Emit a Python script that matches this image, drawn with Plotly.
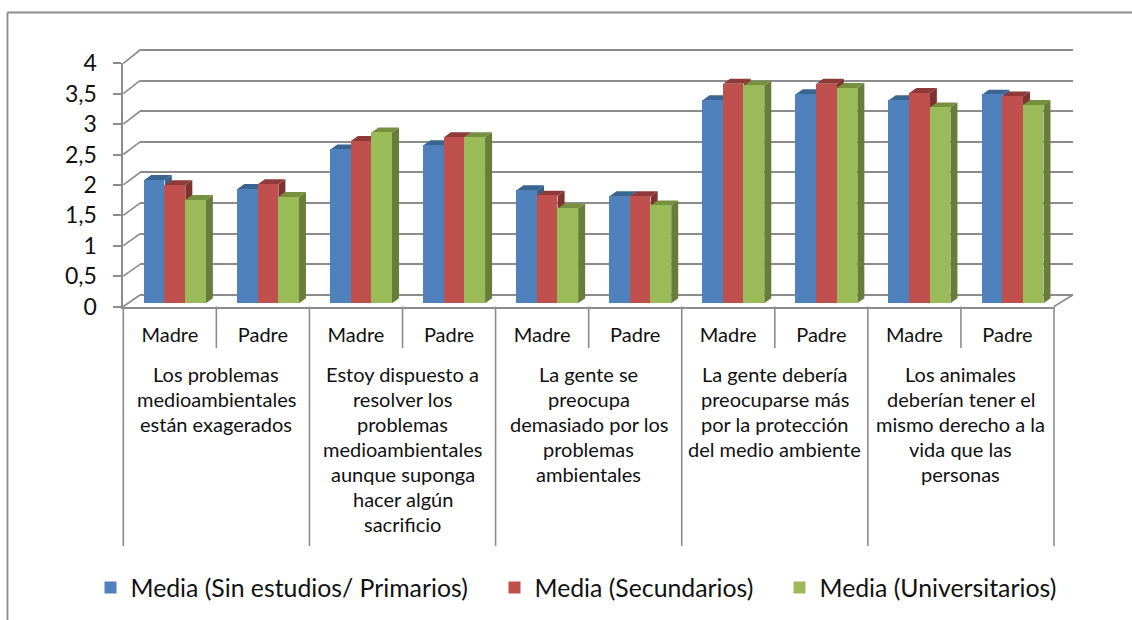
import plotly.graph_objects as go

# ---- data ----
sub_labels = ["Madre", "Padre"] * 5
series_names = ["Media (Sin estudios/ Primarios)", "Media (Secundarios)", "Media (Universitarios)"]
primarios = [2.03, 1.88, 2.53, 2.60, 1.86, 1.76, 3.34, 3.44, 3.34, 3.43]
secundarios = [1.94, 1.96, 2.67, 2.73, 1.77, 1.76, 3.61, 3.61, 3.46, 3.40]
universitarios = [1.70, 1.75, 2.81, 2.73, 1.56, 1.61, 3.58, 3.54, 3.22, 3.26]
group_lines = [
    ["Los problemas", "medioambientales", "están exagerados"],
    ["Estoy dispuesto a", "resolver los", "problemas", "medioambientales", "aunque suponga", "hacer algún", "sacrificio"],
    ["La gente se", "preocupa", "demasiado por los", "problemas", "ambientales"],
    ["La gente debería", "preocuparse más", "por la protección", "del medio ambiente"],
    ["Los animales", "deberían tener el", "mismo derecho a la", "vida que las", "personas"],
]
y_ticks = [0, 0.5, 1, 1.5, 2, 2.5, 3, 3.5, 4]

# ---- style ----
front_colors = ["#4F81BD", "#C0504D", "#9BBB59"]
top_colors = ["#3A6491", "#8E3A38", "#76903F"]
side_colors = ["#3A5F8B", "#7F3331", "#677D3A"]
GRAY = "#8C8C8C"
FONT = "Lato"
W, H = 1132, 620
FX0, FX1, FY0, FY1 = 123.3, 1054.0, 306.5, 63.3   # front wall, pixels
BX0, BX1, BY0, BY1 = 140.0, 1072.7, 295.0, 50.0   # back wall, pixels
px_x = (FX1 - FX0) / 10
px_y = (FY0 - FY1) / 4
bar_w = 20.55 / px_x
bar_shift = 0.056
bar_base = 3.2 / px_y
dx = 7 / px_x
dy = 5 / px_y
legend_px = [90.5, 494.5, 779.5]
back_pad = 0.1   # axis units kept beyond 0 and 4, so the end gridlines are drawn
back_px_y = (BY0 - BY1) / 4


def paper_x(p):
    return p / W


def paper_y(p):
    return 1 - p / H


fig = go.Figure()
centers = [i + 0.5 for i in range(len(sub_labels))]
all_series = [primarios, secundarios, universitarios]

# invisible trace so the back wall subplot (native gridlines) is drawn
fig.add_trace(go.Scatter(x=[0, 10], y=[0, 4], mode="none", showlegend=False, hoverinfo="skip",
                         xaxis="x", yaxis="y"))

# depth faces, under the bar fronts
for s, values in enumerate(all_series):
    sx, sy, tx, ty = [], [], [], []
    for c, v in zip(centers, values):
        left = c + bar_shift + (s - 1.5) * bar_w
        right = left + bar_w
        top = v + bar_base
        sx += [right, right + dx, right + dx, right, right, None]
        sy += [bar_base, bar_base + dy, top + dy, top, bar_base, None]
        tx += [left, left + dx, right + dx, right, left, None]
        ty += [top, top + dy, top + dy, top, top, None]
    for xs, ys, col in ((sx, sy, side_colors[s]), (tx, ty, top_colors[s])):
        fig.add_trace(go.Scatter(x=xs, y=ys, mode="lines", fill="toself", fillcolor=col,
                                 line=dict(width=0), showlegend=False, hoverinfo="skip",
                                 xaxis="x2", yaxis="y2"))

# bar fronts
for s, values in enumerate(all_series):
    fig.add_trace(go.Bar(x=[c + bar_shift + (s - 1) * bar_w for c in centers], y=values,
                         base=bar_base, width=bar_w, name=series_names[s],
                         legend="legend" if s == 0 else f"legend{s + 1}",
                         marker=dict(color=front_colors[s], line=dict(width=0)),
                         xaxis="x3", yaxis="y3"))

shapes = []


def seg(x0, y0, x1, y1, width=1.6):
    shapes.append(dict(type="line", xref="paper", yref="paper", x0=paper_x(x0), y0=paper_y(y0),
                       x1=paper_x(x1), y1=paper_y(y1), line=dict(color=GRAY, width=width), layer="below"))


# side wall and floor diagonals
for t in y_ticks:
    seg(FX0, FY0 - t * px_y, BX0, BY0 - t * back_px_y)
seg(FX1, FY0, BX1, BY0)
# axis-table separators
for i in range(11):
    seg(FX0 + i * px_x, FY0, FX0 + i * px_x, 546 if i % 2 == 0 else 348)
# outer frame
seg(7.5, H, 7.5, 12.5, 1.8)
seg(7.5, 12.5, W, 12.5, 1.8)

annotations = []
for g, lines in enumerate(group_lines):
    for n, text in enumerate(lines):
        annotations.append(dict(x=2 * g + 1, y=paper_y(374 + n * 25.0), xref="x3", yref="paper",
                                text=text, showarrow=False, xanchor="center", yanchor="middle",
                                font=dict(family=FONT, size=20, color="#111111")))

dom_x = [paper_x(FX0), paper_x(FX1)]
dom_y = [paper_y(FY0), paper_y(FY1)]
hidden = dict(visible=False, fixedrange=True)
legend_common = dict(orientation="h", yanchor="middle", xanchor="left", y=paper_y(588),
                     font=dict(family=FONT, size=24.8, color="#111111"), bgcolor="rgba(0,0,0,0)")
fig.update_layout(
    width=W, height=H, autosize=False, margin=dict(l=0, r=0, t=0, b=0, autoexpand=False),
    paper_bgcolor="white", plot_bgcolor="rgba(0,0,0,0)", separators=", ",
    font=dict(family=FONT, color="#111111"), barmode="overlay", bargap=0,
    shapes=shapes, annotations=annotations, hovermode=False,
    xaxis=dict(domain=[paper_x(BX0), paper_x(BX1)], range=[0, 10], showticklabels=False,
               showgrid=False, zeroline=False, ticks="", anchor="y"),
    yaxis=dict(domain=[paper_y(BY0 + back_pad * back_px_y), paper_y(BY1 - back_pad * back_px_y)],
               range=[-back_pad, 4 + back_pad], tickvals=y_ticks, showticklabels=False,
               showgrid=True, gridcolor=GRAY, gridwidth=1.6, zeroline=False, ticks="", anchor="x"),
    xaxis2=dict(domain=dom_x, range=[0, 10], anchor="y2", **hidden),
    yaxis2=dict(domain=dom_y, range=[0, 4], anchor="x2", **hidden),
    xaxis3=dict(domain=dom_x, range=[0, 10], anchor="y3", tickvals=centers, ticktext=sub_labels,
                showline=True, linecolor=GRAY, linewidth=1.8, ticks="", showgrid=False, zeroline=False,
                ticklabelstandoff=10, tickfont=dict(family=FONT, size=20, color="#111111")),
    yaxis3=dict(domain=dom_y, range=[0, 4], anchor="x3", tickvals=y_ticks,
                showline=True, linecolor=GRAY, linewidth=1.8, ticks="outside",
                ticklen=8, tickcolor=GRAY, tickwidth=1.6, showgrid=False, zeroline=False,
                ticklabelstandoff=12, tickfont=dict(family=FONT, size=23, color="#111111")),
    legend=dict(x=paper_x(legend_px[0]), **legend_common),
    legend2=dict(x=paper_x(legend_px[1]), **legend_common),
    legend3=dict(x=paper_x(legend_px[2]), **legend_common),
)
fig.write_html("out.html", config={"displayModeBar": False},
               post_script="document.body.style.margin='0';document.body.style.overflow='hidden';")
